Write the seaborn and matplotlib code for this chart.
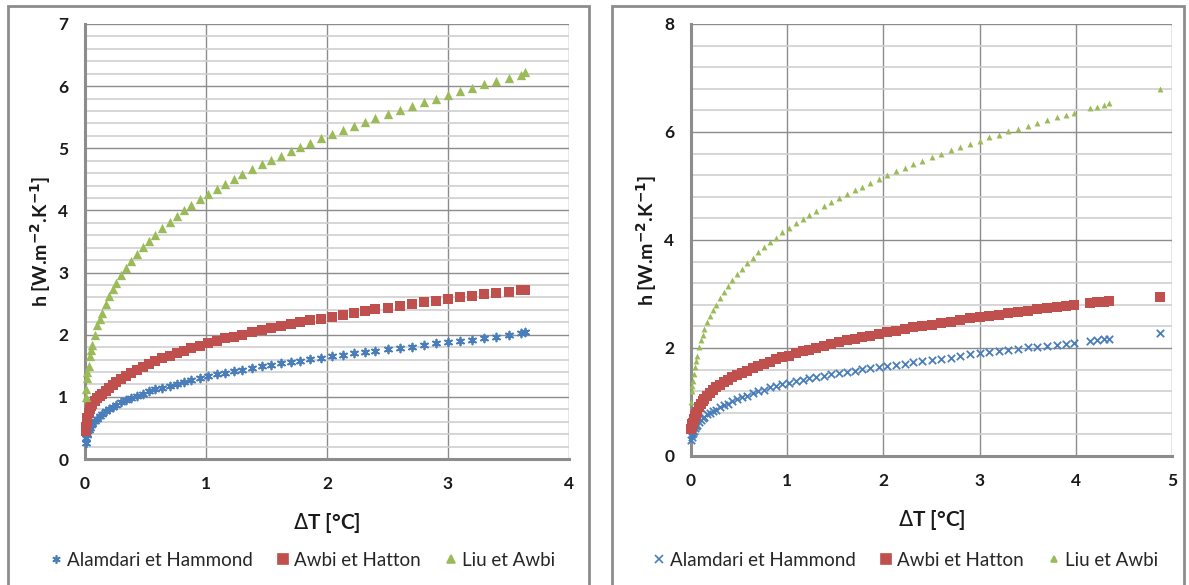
import numpy as np
import pandas as pd
import matplotlib.pyplot as plt
import seaborn as sns
from matplotlib.patches import Rectangle
from matplotlib.lines import Line2D

# values (dT in degC, h in W/m2/K)
dt_left = [0.005, 0.01, 0.015, 0.02, 0.03, 0.04, 0.05, 0.06, 0.08, 0.1,
           0.12, 0.14, 0.17, 0.2, 0.23, 0.26, 0.3, 0.34, 0.38, 0.43,
           0.48, 0.53, 0.58, 0.64, 0.7, 0.76, 0.82, 0.88, 0.95, 1.02,
           1.09, 1.16, 1.23, 1.3, 1.38, 1.46, 1.54, 1.62, 1.7, 1.78,
           1.86, 1.95, 2.04, 2.13, 2.22, 2.31, 2.4, 2.5, 2.6, 2.7,
           2.8, 2.9, 3.0, 3.1, 3.2, 3.3, 3.4, 3.5, 3.6, 3.64]
alamdari_left = [0.25, 0.33, 0.38, 0.41, 0.46, 0.5, 0.54, 0.56, 0.61, 0.65,
                 0.69, 0.72, 0.77, 0.81, 0.84, 0.87, 0.91, 0.95, 0.98, 1.02,
                 1.05, 1.09, 1.12, 1.15, 1.18, 1.21, 1.24, 1.27, 1.3, 1.33,
                 1.36, 1.38, 1.41, 1.43, 1.46, 1.49, 1.51, 1.54, 1.56, 1.58,
                 1.61, 1.63, 1.66, 1.68, 1.7, 1.72, 1.74, 1.77, 1.79, 1.81,
                 1.84, 1.86, 1.88, 1.9, 1.92, 1.95, 1.97, 1.99, 2.02, 2.04]
awbi_left = [0.45, 0.52, 0.6, 0.66, 0.74, 0.8, 0.85, 0.88, 0.94, 0.98,
             1.02, 1.05, 1.1, 1.15, 1.19, 1.24, 1.29, 1.34, 1.38, 1.44,
             1.48, 1.53, 1.57, 1.62, 1.66, 1.7, 1.74, 1.78, 1.82, 1.86,
             1.9, 1.94, 1.97, 2.0, 2.04, 2.07, 2.11, 2.14, 2.17, 2.2,
             2.23, 2.26, 2.29, 2.32, 2.35, 2.38, 2.41, 2.43, 2.46, 2.49,
             2.52, 2.55, 2.57, 2.6, 2.62, 2.65, 2.67, 2.69, 2.72, 2.72]
liu_left = [1.0, 1.12, 1.3, 1.4, 1.5, 1.65, 1.75, 1.84, 2.0, 2.15,
            2.25, 2.35, 2.5, 2.62, 2.73, 2.84, 2.96, 3.07, 3.18, 3.3,
            3.41, 3.51, 3.61, 3.72, 3.82, 3.91, 4.0, 4.09, 4.19, 4.27,
            4.35, 4.43, 4.5, 4.58, 4.66, 4.74, 4.81, 4.88, 4.95, 5.02,
            5.09, 5.16, 5.23, 5.3, 5.36, 5.43, 5.49, 5.55, 5.62, 5.68,
            5.74, 5.8, 5.86, 5.92, 5.97, 6.03, 6.08, 6.13, 6.18, 6.22]

dt_right = [0.005, 0.01, 0.015, 0.02, 0.03, 0.04, 0.05, 0.06, 0.08, 0.1,
            0.12, 0.14, 0.17, 0.2, 0.23, 0.26, 0.3, 0.34, 0.38, 0.43,
            0.48, 0.53, 0.58, 0.64, 0.7, 0.76, 0.82, 0.88, 0.95, 1.02,
            1.09, 1.16, 1.23, 1.3, 1.38, 1.46, 1.54, 1.62, 1.7, 1.78,
            1.86, 1.95, 2.04, 2.13, 2.22, 2.31, 2.4, 2.5, 2.6, 2.7,
            2.8, 2.9, 3.0, 3.1, 3.2, 3.3, 3.4, 3.5, 3.6, 3.7,
            3.8, 3.9, 3.98, 4.15, 4.22, 4.29, 4.35, 4.88]
alamdari_right = [0.3, 0.36, 0.4, 0.42, 0.47, 0.51, 0.55, 0.58, 0.63, 0.67,
                  0.7, 0.73, 0.77, 0.8, 0.83, 0.86, 0.9, 0.94, 0.97, 1.01,
                  1.05, 1.09, 1.12, 1.16, 1.2, 1.23, 1.27, 1.3, 1.33, 1.36,
                  1.39, 1.41, 1.44, 1.46, 1.49, 1.51, 1.54, 1.56, 1.58, 1.61,
                  1.63, 1.65, 1.67, 1.69, 1.71, 1.74, 1.76, 1.78, 1.8, 1.82,
                  1.86, 1.88, 1.91, 1.93, 1.95, 1.97, 1.99, 2.01, 2.02, 2.04,
                  2.06, 2.08, 2.09, 2.13, 2.14, 2.16, 2.17, 2.27]
awbi_right = [0.5, 0.55, 0.59, 0.62, 0.68, 0.74, 0.78, 0.82, 0.9, 0.96,
              1.01, 1.06, 1.12, 1.17, 1.22, 1.27, 1.32, 1.37, 1.41, 1.46,
              1.5, 1.54, 1.58, 1.63, 1.67, 1.71, 1.75, 1.79, 1.83, 1.86,
              1.9, 1.94, 1.97, 2.0, 2.04, 2.07, 2.11, 2.14, 2.17, 2.2,
              2.23, 2.26, 2.29, 2.32, 2.35, 2.38, 2.41, 2.43, 2.46, 2.49,
              2.52, 2.55, 2.57, 2.6, 2.62, 2.65, 2.67, 2.69, 2.72, 2.74,
              2.76, 2.78, 2.8, 2.84, 2.85, 2.86, 2.87, 2.95]
liu_right = [1.0, 1.2, 1.3, 1.38, 1.52, 1.65, 1.76, 1.86, 2.02, 2.15,
             2.25, 2.35, 2.48, 2.6, 2.7, 2.8, 2.93, 3.04, 3.14, 3.26,
             3.37, 3.47, 3.57, 3.67, 3.77, 3.87, 3.96, 4.04, 4.14, 4.22,
             4.31, 4.39, 4.47, 4.54, 4.63, 4.71, 4.78, 4.85, 4.93, 4.99,
             5.06, 5.13, 5.2, 5.27, 5.34, 5.4, 5.46, 5.53, 5.59, 5.66,
             5.72, 5.78, 5.84, 5.9, 5.95, 6.01, 6.06, 6.12, 6.17, 6.22,
             6.27, 6.32, 6.36, 6.44, 6.47, 6.5, 6.53, 6.8]

series_names = ["Alamdari et Hammond", "Awbi et Hatton", "Liu et Awbi"]
colors = ["#4a7ebb", "#c0504d", "#9bbb59"]

sns.set_style("white")
plt.rcParams['font.family'] = ['Lato', 'DejaVu Sans']

fig = plt.figure(figsize=(11.89, 5.85), dpi=100)

# panel frames
for x0, x1 in [(8, 589), (612, 1184)]:
    fig.patches.append(Rectangle((x0 / 1189, -0.01), (x1 - x0) / 1189, 1 - 6 / 585 + 0.01,
                                 transform=fig.transFigure, fill=False,
                                 edgecolor="#8c8c8c", lw=2))


def panel(rect, dt, ys, xmax, ymax, ymaj, sizes, xmark):
    ax = fig.add_axes(rect)
    markers = [xmark, "s", "^"]
    for name, y, c, m, s in zip(series_names, ys, colors, markers, sizes):
        d = pd.DataFrame({"dT": dt, "h": y})
        sns.scatterplot(data=d, x="dT", y="h", ax=ax, color=c, marker=m, s=s,
                        linewidth=1.3 if m in ("x", (6, 2, 0)) else 0, edgecolor=c,
                        clip_on=False, zorder=3)
    ax.set_xlim(0, xmax)
    ax.set_ylim(0, ymax)
    ax.set_xticks(np.arange(0, xmax + 1, 1))
    ax.set_yticks(np.arange(0, ymax + ymaj, ymaj))
    ax.set_yticks(np.arange(0, ymax + 0.01, ymaj / 5), minor=True)
    ax.grid(True, which="major", color="#8c8c8c", lw=1)
    ax.grid(True, which="minor", axis="y", color="#cfcfcf", lw=1.2)
    ax.set_axisbelow(True)
    for s in ["top", "right"]:
        ax.spines[s].set_visible(False)
    for s in ["left", "bottom"]:
        ax.spines[s].set_color("#8c8c8c")
        ax.spines[s].set_linewidth(2.2)
    ax.tick_params(which="major", length=5, width=2, color="#8c8c8c", direction="out",
                   labelsize=12.5, pad=7, labelcolor="#1a1a1a")
    ax.tick_params(which="minor", length=0)
    for lab in ax.get_xticklabels() + ax.get_yticklabels():
        lab.set_fontweight("bold")
    ax.set_xlabel(r"$\Delta$T [°C]", fontsize=15, fontweight="bold", labelpad=14,
                  color="#1a1a1a")
    ax.set_ylabel("h [W.m$^{\\mathbf{-2}}$.K$^{\\mathbf{-1}}$]", fontsize=14,
                  fontweight="bold", labelpad=4, color="#1a1a1a")
    handles = [Line2D([], [], ls="", marker=m, color=c, markersize=ms, mew=1.2)
               for m, c, ms in zip(markers, colors, [6, 7, 6 if sizes[2] > 20 else 4])]
    return ax, handles


ax1, h1 = panel([85 / 1189, 1 - 459 / 585, 484 / 1189, 435 / 585],
                dt_left, [alamdari_left, awbi_left, liu_left], 4, 7, 1, [32, 55, 45],
                (6, 2, 0))
ax2, h2 = panel([691 / 1189, 1 - 456 / 585, 481 / 1189, 432 / 585],
                dt_right, [alamdari_right, awbi_right, liu_right], 5, 8, 2, [28, 55, 18],
                "x")

fig.legend(h1, series_names, loc="center", bbox_to_anchor=(302 / 1189, 1 - 560 / 585),
           ncol=3, frameon=False, fontsize=13.5, handletextpad=0.2, columnspacing=1.2,
           handlelength=0.8)
fig.legend(h2, series_names, loc="center", bbox_to_anchor=(905 / 1189, 1 - 560 / 585),
           ncol=3, frameon=False, fontsize=13.5, handletextpad=0.2, columnspacing=1.2,
           handlelength=0.8)

fig.savefig("out.png", dpi=100)
